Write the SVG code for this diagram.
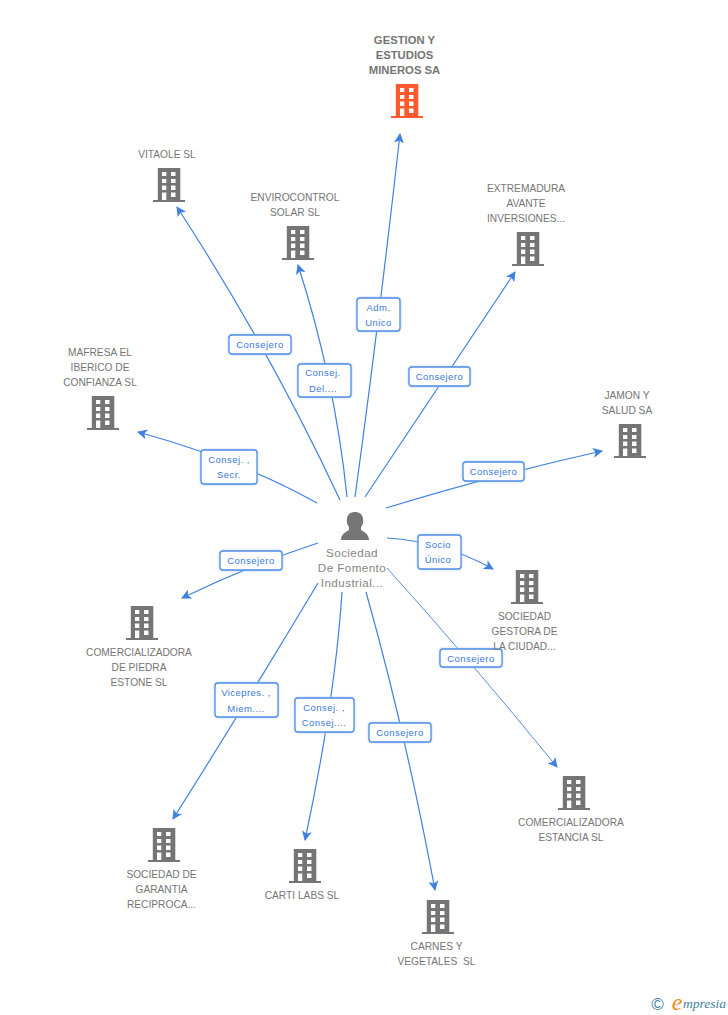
<svg xmlns="http://www.w3.org/2000/svg" width="728" height="1015" viewBox="0 0 728 1015">
<style>
text{font-family:"Liberation Sans",Arial,sans-serif;text-anchor:middle;white-space:pre}
.n{font-size:10.2px;fill:#757575}
.m{font-size:11.7px;fill:#858585;letter-spacing:.4px}
.t{font-size:11.3px;fill:#757575;font-weight:bold}
.l{font-size:9.5px;fill:#3a78d8;letter-spacing:.45px}
.c{fill:none;stroke:#3f80e0;stroke-width:1.2}
.b{fill:#fff;stroke:#4f8ee6;stroke-width:1.3;filter:drop-shadow(0 0 1px #a9c8f4)}
.g{fill:#757575}
</style>
<defs>
<marker id="a" markerWidth="11" markerHeight="10" refX="9" refY="5" orient="auto" markerUnits="userSpaceOnUse"><path d="M0 0L10 5L0 10L2.500 5Z" fill="#3f80e0"/></marker>
<symbol id="bld" viewBox="0 0 32 34" overflow="visible">
<path fill-rule="evenodd" d="M4.800 0H27.300V32H32V34H0V32H4.800ZM9 4V8H13.300V4ZM18 4V8H22.500V4ZM9 11V15H13.300V11ZM18 11V15H22.500V11ZM9 17.500V22H13.300V17.500ZM18 17.500V22H22.500V17.500ZM9 24.500V32H13.300V24.500ZM18 24.500V29H22.500V24.500Z"/>
</symbol>
</defs>
<g id="connectors">
<path class="c" marker-end="url(#a)" d="M355 497Q378 330 400 134"/>
<path class="c" marker-end="url(#a)" d="M340 500Q270 350 177 207"/>
<path class="c" marker-end="url(#a)" d="M347 497Q335 380 298 265"/>
<path class="c" marker-end="url(#a)" d="M365 497Q440 385 515 272"/>
<path class="c" marker-end="url(#a)" d="M317 503Q240 460 138 432"/>
<path class="c" marker-end="url(#a)" d="M386 508Q490 476 602 451"/>
<path class="c" marker-end="url(#a)" d="M387 538Q445 542 493 569"/>
<path class="c" marker-end="url(#a)" d="M318 543Q250 565 182 598"/>
<path class="c" style="stroke-width:.9" marker-end="url(#a)" d="M387 568Q470 660 557 767"/>
<path class="c" marker-end="url(#a)" d="M318 583Q245 705 173 819"/>
<path class="c" marker-end="url(#a)" d="M342 592Q335 700 305 840"/>
<path class="c" marker-end="url(#a)" d="M366 592Q405 730 435 890"/>
</g>
<g id="edge-labels">
<g><rect class="b" x="229" y="335" width="62" height="19" rx="3"/><text class="l" x="260" y="348">Consejero</text></g>
<g><rect class="b" x="357" y="298" width="43" height="33" rx="3"/><text class="l" x="378.500" y="311">Adm.</text><text class="l" x="378.500" y="326">Unico</text></g>
<g><rect class="b" x="298" y="364" width="53" height="33" rx="3"/><text class="l" x="323" y="376">Consej.</text><text class="l" x="323" y="392">Del....</text></g>
<g><rect class="b" x="409" y="367" width="61" height="19" rx="3"/><text class="l" x="439.500" y="380">Consejero</text></g>
<g><rect class="b" x="201" y="450" width="56" height="34" rx="3"/><text class="l" x="229" y="463">Consej. ,</text><text class="l" x="229" y="478">Secr.</text></g>
<g><rect class="b" x="463" y="462" width="61" height="19" rx="3"/><text class="l" x="493.500" y="475">Consejero</text></g>
<g><rect class="b" x="418" y="535" width="43" height="34" rx="3"/><text class="l" x="438" y="548">Socio</text><text class="l" x="438" y="563">Único</text></g>
<g><rect class="b" x="220" y="551" width="62" height="19" rx="3"/><text class="l" x="251" y="564">Consejero</text></g>
<g><rect class="b" x="440" y="649" width="62" height="18" rx="3"/><text class="l" x="471" y="662">Consejero</text></g>
<g><rect class="b" x="215" y="683" width="63" height="34" rx="3"/><text class="l" x="246" y="696">Vicepres. ,</text><text class="l" x="246" y="712">Miem....</text></g>
<g><rect class="b" x="295" y="698" width="59" height="34" rx="3"/><text class="l" x="324" y="711">Consej. ,</text><text class="l" x="324" y="726">Consej....</text></g>
<g><rect class="b" x="369" y="723" width="62" height="19" rx="3"/><text class="l" x="400" y="736">Consejero</text></g>
</g>
<g id="node-main"><use href="#bld" x="391" y="84" width="32" height="34" fill="#ff5a2d"/><text class="t" x="404.500" y="44">GESTION Y</text><text class="t" x="404.500" y="59">ESTUDIOS</text><text class="t" x="404.500" y="74">MINEROS SA</text></g>
<g id="node-vitaole"><use href="#bld" x="153" y="168" width="32" height="34" class="g"/><text class="n" x="167" y="158">VITAOLE SL</text></g>
<g id="node-enviro"><use href="#bld" x="282" y="226" width="32" height="34" class="g"/><text class="n" x="295" y="201">ENVIROCONTROL</text><text class="n" x="295" y="216">SOLAR SL</text></g>
<g id="node-extremadura"><use href="#bld" x="512" y="232" width="32" height="34" class="g"/><text class="n" x="526" y="192">EXTREMADURA</text><text class="n" x="526" y="207">AVANTE</text><text class="n" x="526" y="222">INVERSIONES...</text></g>
<g id="node-mafresa"><use href="#bld" x="87" y="396" width="32" height="34" class="g"/><text class="n" x="100" y="356">MAFRESA EL</text><text class="n" x="100" y="371">IBERICO DE</text><text class="n" x="100" y="386">CONFIANZA SL</text></g>
<g id="node-jamon"><use href="#bld" x="614" y="424" width="32" height="34" class="g"/><text class="n" x="627" y="399">JAMON Y</text><text class="n" x="627" y="414">SALUD SA</text></g>
<g id="node-person"><path class="g" d="M341 540C341 534 346 532 349 530V527C347 525 346.500 522 347 518C348 514 351 512 355 512C359 512 362 514 363 518C363.500 522 363 525 361 527V530C364 532 369 534 369 540Z"/><text class="m" x="352" y="557">Sociedad</text><text class="m" x="352" y="572">De Fomento</text><text class="m" x="352" y="587">Industrial...</text></g>
<g id="node-gestora"><use href="#bld" x="511" y="570" width="32" height="34" class="g"/><text class="n" x="524.500" y="620">SOCIEDAD</text><text class="n" x="524.500" y="635">GESTORA DE</text><text class="n" x="524.500" y="650">LA CIUDAD...</text></g>
<g id="node-piedra"><use href="#bld" x="126" y="606" width="32" height="34" class="g"/><text class="n" x="139" y="656">COMERCIALIZADORA</text><text class="n" x="139" y="671">DE PIEDRA</text><text class="n" x="139" y="686">ESTONE SL</text></g>
<g id="node-estancia"><use href="#bld" x="558" y="776" width="32" height="34" class="g"/><text class="n" x="571" y="826">COMERCIALIZADORA</text><text class="n" x="571" y="841">ESTANCIA SL</text></g>
<g id="node-garantia"><use href="#bld" x="148" y="828" width="32" height="34" class="g"/><text class="n" x="161.500" y="878">SOCIEDAD DE</text><text class="n" x="161.500" y="893">GARANTIA</text><text class="n" x="161.500" y="908">RECIPROCA...</text></g>
<g id="node-carti"><use href="#bld" x="289" y="849" width="32" height="34" class="g"/><text class="n" x="302" y="899">CARTI LABS SL</text></g>
<g id="node-carnes"><use href="#bld" x="422" y="900" width="32" height="34" class="g"/><text class="n" x="436.500" y="950">CARNES Y</text><text class="n" x="436.500" y="965">VEGETALES  SL</text></g>
<g id="credit"><text x="657.500" y="1009.500" style="font-size:17px;fill:#3d7f9c">©</text><text x="677" y="1010" style="font-family:'Liberation Serif',serif;font-size:24px;font-style:italic;fill:#f08a1d">e</text><text x="704.500" y="1008" style="font-family:'Liberation Serif',serif;font-size:13.500px;font-style:italic;fill:#3d7f9c">mpresia</text></g>
</svg>
